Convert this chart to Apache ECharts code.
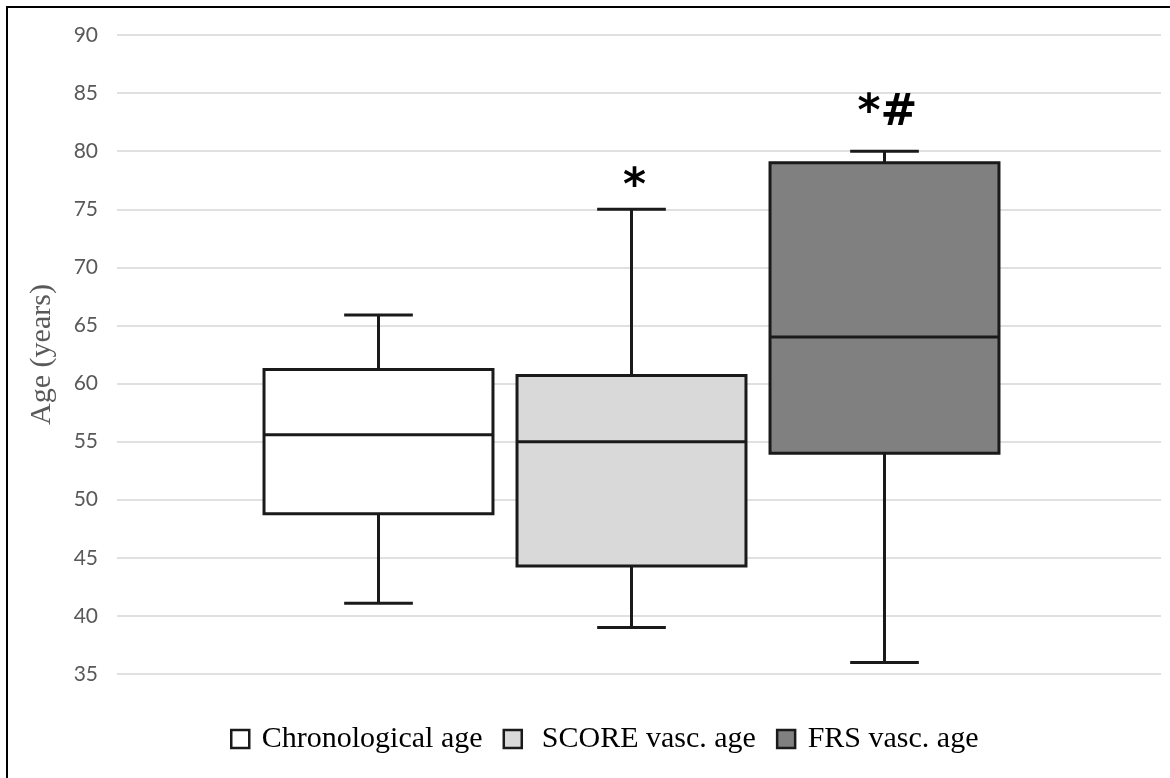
<!DOCTYPE html>
<html>
<head>
<meta charset="utf-8">
<script src="https://cdn.jsdelivr.net/npm/echarts@6/dist/echarts.min.js"></script>
<style>html,body{margin:0;padding:0;background:#fff}#c{width:1170px;height:778px}</style>
</head>
<body>
<div id="c"></div>
<script>
// ---- data ----
const categories = ['Chronological age', 'SCORE vasc. age', 'FRS vasc. age'];
const mins    = [41.1, 39.0, 36.0];
const q1s     = [48.8, 44.3, 54.0];
const medians = [55.6, 55.0, 64.0];
const q3s     = [61.2, 60.7, 79.0];
const maxs    = [65.9, 75.0, 80.0];
const marks   = ['', '*', '*#'];
const yMin = 35, yMax = 90, yStep = 5;
const yTitle = 'Age (years)';

// ---- style ----
const fills = ['#ffffff', '#d9d9d9', '#808080'];
const stroke = '#1a1a1a';
const markLift = [0, 10, 26];   // px between whisker cap and mark baseline

function renderItem(params, api) {
  const x = api.value(0);
  const pMin = api.coord([x, api.value(1)]);
  const pQ1 = api.coord([x, api.value(2)]);
  const pMed = api.coord([x, api.value(3)]);
  const pQ3 = api.coord([x, api.value(4)]);
  const pMax = api.coord([x, api.value(5)]);
  const band = api.size([1, 0])[0];
  const bw = band * 0.905;
  const cap = bw * 0.3;
  const cx = pMed[0];
  const ls = { stroke: stroke, lineWidth: 3, fill: null };
  const idx = params.seriesIndex;
  const children = [
    { type: 'line', shape: { x1: cx, y1: pQ3[1], x2: cx, y2: pMax[1] }, style: ls },
    { type: 'line', shape: { x1: cx, y1: pQ1[1], x2: cx, y2: pMin[1] }, style: ls },
    { type: 'line', shape: { x1: cx - cap / 2, y1: pMax[1], x2: cx + cap / 2, y2: pMax[1] }, style: ls },
    { type: 'line', shape: { x1: cx - cap / 2, y1: pMin[1], x2: cx + cap / 2, y2: pMin[1] }, style: ls },
    { type: 'rect', shape: { x: cx - bw / 2, y: pQ3[1], width: bw, height: pQ1[1] - pQ3[1] },
      style: { fill: fills[idx], stroke: stroke, lineWidth: 3 } },
    { type: 'line', shape: { x1: cx - bw / 2, y1: pMed[1], x2: cx + bw / 2, y2: pMed[1] }, style: ls }
  ];
  if (marks[idx]) {
    children.push({
      type: 'text',
      style: {
        text: marks[idx], x: cx + 3, y: pMax[1] - markLift[idx] + 10,
        align: 'center', verticalAlign: 'bottom',
        font: 'bold 44px "DejaVu Sans"', fill: '#000'
      }
    });
  }
  return { type: 'group', children: children };
}

const chart = echarts.init(document.getElementById('c'), null, { renderer: 'canvas' });
const option = {
  animation: false,
  backgroundColor: '#fff',
  graphic: [{
    type: 'rect', silent: true, z: 100,
    shape: { x: 7, y: 7, width: 1200, height: 800 },
    style: { fill: null, stroke: '#000', lineWidth: 2 }
  }],
  grid: [
    { left: 117, right: 9, top: 35, bottom: 104 },
    { left: 252, right: 159, top: 35, bottom: 104 }
  ],
  xAxis: [
    { type: 'category', gridIndex: 0, data: categories, show: false },
    { type: 'category', gridIndex: 1, data: categories, show: false }
  ],
  yAxis: [
    {
      type: 'value', gridIndex: 0, min: yMin, max: yMax, interval: yStep,
      axisLine: { show: false }, axisTick: { show: false },
      axisLabel: { margin: 19, color: '#595959', fontSize: 21, fontFamily: 'Lato' },
      splitLine: { lineStyle: { color: '#e0e0e0', width: 2 } },
      name: yTitle, nameLocation: 'middle', nameGap: 60,
      nameTextStyle: { color: '#595959', fontSize: 30, fontFamily: 'Liberation Serif' }
    },
    { type: 'value', gridIndex: 1, min: yMin, max: yMax, interval: yStep, show: false, splitLine: { show: false } }
  ],
  legend: {
    left: 225, top: 719,
    itemWidth: 18, itemHeight: 18, itemGap: 20,
    formatter: function (n) { return (n === categories[1] ? '  ' : ' ') + n; },
    textStyle: { fontFamily: 'Liberation Serif', fontSize: 30, color: '#000' },
    data: categories.map((c, i) => ({
      name: c, icon: 'rect',
      itemStyle: { color: fills[i], borderColor: stroke, borderWidth: 2.5 }
    }))
  },
  series: categories.map((c, i) => ({
    type: 'custom', name: c, xAxisIndex: 1, yAxisIndex: 1,
    itemStyle: { color: fills[i], borderColor: stroke },
    renderItem: renderItem,
    encode: { x: 0, y: [1, 2, 3, 4, 5] },
    data: [[c, mins[i], q1s[i], medians[i], q3s[i], maxs[i]]]
  }))
};
chart.setOption(option);
</script>
</body>
</html>
